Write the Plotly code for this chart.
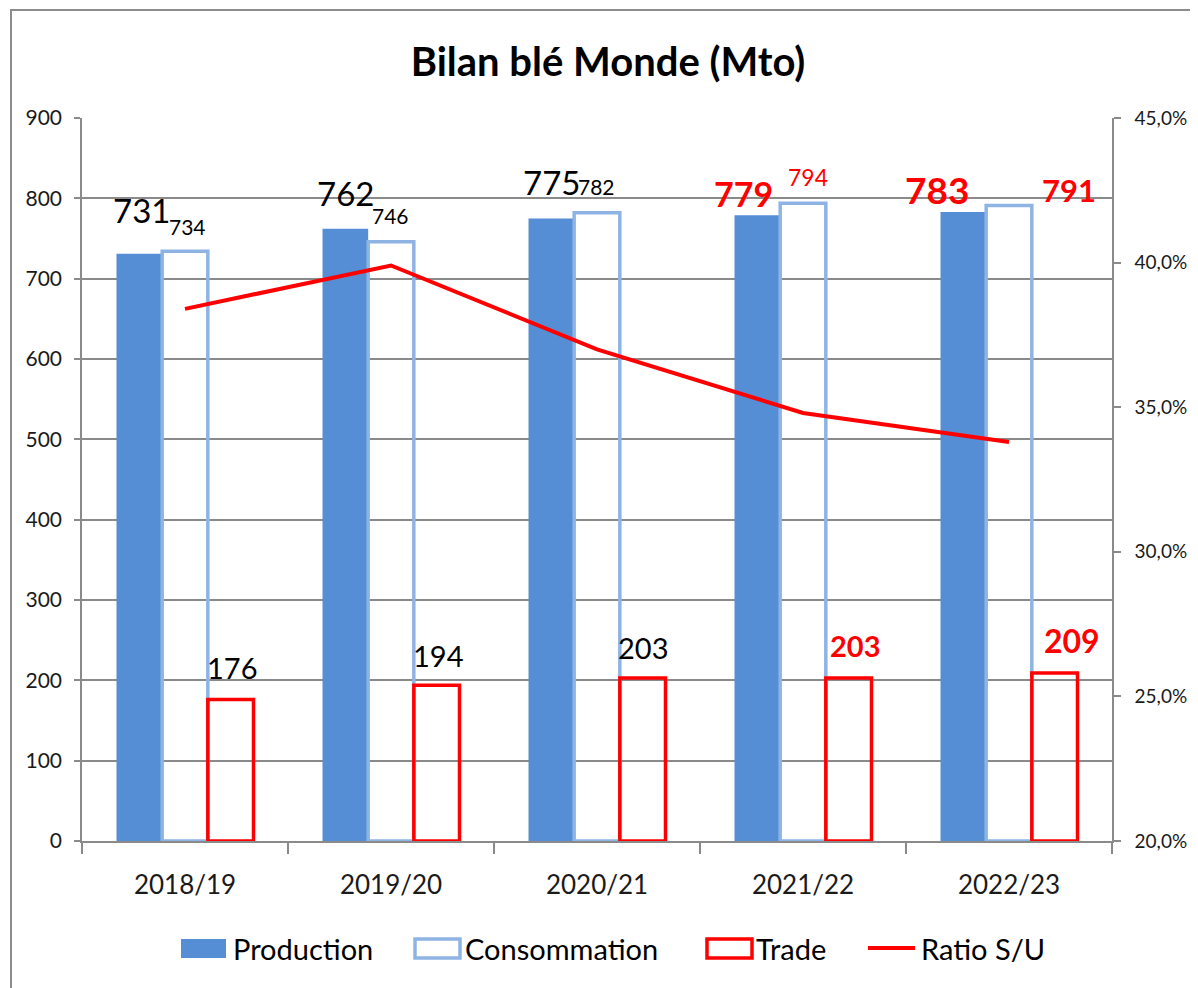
import plotly.graph_objects as go

campagnes = ["2018/19", "2019/20", "2020/21", "2021/22", "2022/23"]
production = [731, 762, 775, 779, 783]
consommation = [734, 746, 782, 794, 791]
trade = [176, 194, 203, 203, 209]
ratio_su = [0.384, 0.399, 0.370, 0.348, 0.338]

# page body has an 8px margin: lay out in window coordinates
OFF = 8
W, H = 1190, 980
PL, PR, PT, PB = 82, 1112, 118, 841   # plot area in window px
L, R, T, B = PL - OFF, W + OFF - PR, PT - OFF, H + OFF - PB
PW, PH = PR - PL, PB - PT

def px(x):
    return (x - PL) / PW

def py(y):
    return (PB - y) / PH

FONT = "Lato"
BLUE = "#558ED5"
LBLUE = "#8EB4E3"
RED = "#FF0000"
GRID = "#8a8a8a"

fig = go.Figure()
fig.add_trace(go.Bar(x=campagnes, y=production, name="Production",
                     marker=dict(color=BLUE, line=dict(width=0)), showlegend=False))
fig.add_trace(go.Bar(x=campagnes, y=consommation, name="Consommation",
                     marker=dict(color="rgba(0,0,0,0)", line=dict(color=LBLUE, width=3.5)),
                     showlegend=False))
fig.add_trace(go.Bar(x=campagnes, y=trade, name="Trade",
                     marker=dict(color="rgba(0,0,0,0)", line=dict(color=RED, width=3.5)),
                     showlegend=False))
fig.add_trace(go.Scatter(x=campagnes, y=ratio_su, name="Ratio S/U", yaxis="y2",
                         mode="lines", line=dict(color=RED, width=4), showlegend=False))

# data labels (x shift, y shift, size, colour, bold)
prod_style = [(-44, 44, 33, "black", False), (-46, 36, 33, "black", False), (-46, 36, 33, "black", False),
              (-60, 22, 34, RED, True), (-72, 22, 37, RED, True)]
cons_style = [(2, 25, 21, "black", False), (-1, 26, 21, "black", False), (-1, 26, 21, "black", False),
              (5, 26, 23, RED, False), (60, 16, 31, RED, True)]
trade_style = [(47, 32, 29, "black", False), (47, 30, 29, "black", False), (46, 30, 29, "black", False),
               (52, 32, 29, RED, True), (63, 33, 32, RED, True)]

for vals, styles in [(production, prod_style), (consommation, cons_style), (trade, trade_style)]:
    for c, v, (dx, dy, fs, col, bold) in zip(campagnes, vals, styles):
        txt = f"<b>{v}</b>" if bold else str(v)
        fig.add_annotation(x=c, y=v, xref="x", yref="y", text=txt, showarrow=False,
                           xshift=dx, yshift=dy, xanchor="center", yanchor="middle",
                           font=dict(family=FONT, size=fs, color=col))

# custom legend
shapes = []
shapes.append(dict(type="rect", xref="paper", yref="paper", x0=px(181), x1=px(226), y0=py(958), y1=py(939),
                   fillcolor=BLUE, line=dict(width=0)))
shapes.append(dict(type="rect", xref="paper", yref="paper", x0=px(415), x1=px(460), y0=py(958), y1=py(939),
                   fillcolor="rgba(0,0,0,0)", line=dict(color=LBLUE, width=3.5)))
shapes.append(dict(type="rect", xref="paper", yref="paper", x0=px(707), x1=px(752), y0=py(958), y1=py(939),
                   fillcolor="rgba(0,0,0,0)", line=dict(color=RED, width=3.5)))
shapes.append(dict(type="line", xref="paper", yref="paper", x0=px(868), x1=px(915), y0=py(948), y1=py(948),
                   line=dict(color=RED, width=4)))
# outer chart border
shapes.append(dict(type="rect", xref="paper", yref="paper", x0=px(11), x1=px(1260), y0=py(1050), y1=py(10),
                   fillcolor="rgba(0,0,0,0)", line=dict(color="#8c8c8c", width=2), layer="below"))

for name, xpos in [("Production", 231), ("Consommation", 463), ("Trade", 754), ("Ratio S/U", 919)]:
    fig.add_annotation(x=px(xpos), y=py(949), xref="paper", yref="paper", text=name, showarrow=False,
                       xanchor="left", yanchor="middle", font=dict(family=FONT, size=29, color="black"))

fig.update_layout(
    width=W, height=H, autosize=False,
    margin=dict(l=L, r=R, t=T, b=B, pad=0, autoexpand=False),
    paper_bgcolor="white", plot_bgcolor="white",
    separators=", ",
    barmode="group", bargap=0.335, bargroupgap=0,
    title=dict(text="<b>Bilan blé Monde (Mto)</b>", x=(608 - OFF) / W, xref="container", xanchor="center",
               y=1 - (62 - OFF) / H, yref="container", yanchor="middle", automargin=False,
               font=dict(family=FONT, size=40, color="black")),
    font=dict(family=FONT, color="#1a1a1a"),
    shapes=shapes,
    xaxis=dict(range=[-0.5, 4.5], autorange=False, automargin=False,
               showline=True, linecolor=GRID, linewidth=1.5, ticks="outside", tickson="boundaries",
               ticklen=11, tickcolor=GRID, tickwidth=1.5, showgrid=False,
               tickfont=dict(family=FONT, size=26, color="#1a1a1a"), ticklabelstandoff=20),
    yaxis=dict(range=[0, 900], autorange=False, automargin=False, dtick=100, showgrid=True,
               gridcolor=GRID, gridwidth=1.5,
               showline=True, linecolor=GRID, linewidth=1.5, ticks="outside", ticklen=6,
               tickcolor=GRID, tickwidth=1.5, zeroline=False,
               tickfont=dict(family=FONT, size=21, color="#1a1a1a"), ticklabelstandoff=8),
    yaxis2=dict(range=[0.20, 0.45], autorange=False, automargin=False, dtick=0.05, tickformat=".1%",
                overlaying="y", side="right",
                showgrid=False, zeroline=False, showline=True, linecolor=GRID, linewidth=1.5,
                ticks="outside", ticklen=7, tickcolor=GRID, tickwidth=1.5,
                tickfont=dict(family=FONT, size=19, color="#1a1a1a"), ticklabelstandoff=10),
)

fig.write_html("out.html")
